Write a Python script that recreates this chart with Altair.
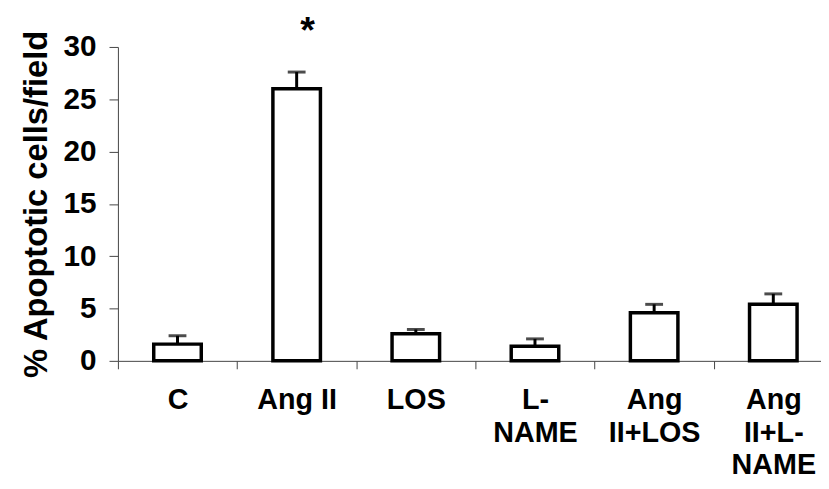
import altair as alt
import pandas as pd

categories = ["C", "Ang II", "LOS", "L-\nNAME", "Ang\nII+LOS", "Ang\nII+L-\nNAME"]
means = [1.6, 26.0, 2.6, 1.4, 4.6, 5.4]
sem = [0.8, 1.6, 0.4, 0.7, 0.8, 1.0]
marks = ["", "*", "", "", "", ""]
y_ticks = [0, 5, 10, 15, 20, 25, 30]

df = pd.DataFrame({"group": categories, "mean": means, "sem": sem, "mark": marks})
df["top"] = df["mean"] + df["sem"]

FONT = "Liberation Sans"

x_enc = alt.X(
    "group:N",
    sort=categories,
    scale=alt.Scale(range=[0, 722], paddingInner=0, paddingOuter=0),
    axis=alt.Axis(
        title=None,
        labelAngle=0,
        labelFont=FONT,
        labelFontSize=29,
        labelFontWeight="bold",
        labelColor="black",
        labelBaseline="top",
        labelPadding=17,
        labelLineHeight=33,
        labelExpr="split(datum.label, '\\n')",
        tickBand="extent",
        tickSize=8,
        tickColor="#444",
        domainColor="#444",
        labelLimit=0,
    ),
)

y_scale = alt.Scale(domain=[0, 30], nice=False)
y_axis = alt.Axis(
    values=y_ticks,
    grid=False,
    tickSize=9,
    tickColor="#444",
    domainColor="#444",
    labelFont=FONT,
    labelFontSize=30,
    labelFontWeight="bold",
    labelColor="black",
    labelPadding=13,
    title="% Apoptotic cells/field",
    titleFont=FONT,
    titleFontSize=33,
    titleFontWeight="bold",
    titleColor="black",
    titlePadding=10,
)

base = alt.Chart(df)

bars = base.mark_bar(size=48, fill="white", stroke="black", strokeWidth=3.5).encode(
    x=x_enc,
    y=alt.Y("mean:Q", scale=y_scale, axis=y_axis),
)

err = base.mark_rule(color="black", strokeWidth=3).encode(
    x=alt.X("group:N", sort=categories),
    y="mean:Q",
    y2="top:Q",
)

cap = base.mark_tick(color="black", size=18, thickness=3).encode(
    x=alt.X("group:N", sort=categories),
    y="top:Q",
)

star = base.mark_text(
    font=FONT, fontSize=38, fontWeight="bold", color="black", baseline="middle", dx=11, dy=-40
).encode(
    x=alt.X("group:N", sort=categories),
    y="top:Q",
    text="mark:N",
)

chart = (
    alt.layer(bars, err, cap, star)
    .properties(
        width=710,
        height=317,
        autosize=alt.AutoSizeParams(type="none"),
        padding={"left": 111, "top": 37, "right": 0, "bottom": 119},
        background="white",
    )
    .configure_view(stroke=None)
)

chart.save("out.html", embed_options={"renderer": "svg", "actions": False})
